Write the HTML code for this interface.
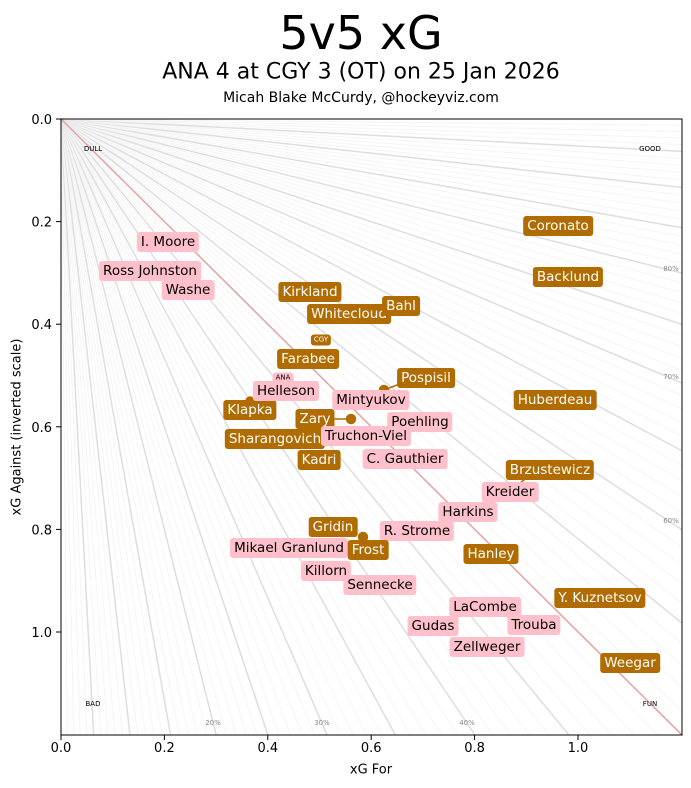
<!DOCTYPE html>
<html><head><meta charset="utf-8">
<style>
html,body{margin:0;background:#fff;width:691px;height:788px;overflow:hidden;font-family:"DejaVu Sans","Liberation Sans",sans-serif}
#w{position:relative;width:691px;height:788px;overflow:hidden}
.l{position:absolute;transform:translate(-50%,-50%);font-size:13.5px;line-height:14px;padding:3px 4px;border-radius:3px;white-space:nowrap}
.b{background:#b06c00;color:#fff}
.p{background:#ffc0cb;color:#000}
.s{font-size:7px;line-height:7px;padding:2px 3px}
.t{position:absolute;transform:translate(-50%,-50%);white-space:nowrap}
</style></head><body><div id="w">
<svg id="g" width="691" height="788" style="position:absolute;left:0;top:0">
<defs><clipPath id="c"><rect x="61" y="119" width="621" height="616"/></clipPath></defs>
<g id="rays" clip-path="url(#c)"></g>
<line x1="61" y1="119" x2="682" y2="735" stroke="#e6a6a6" stroke-width="1.6"/>
<g fill="#b06c00" stroke="#b06c00" stroke-width="1.5">
<circle cx="384" cy="390" r="4.5"/><line x1="384" y1="390" x2="410" y2="380"/>
<circle cx="351" cy="419" r="4.5"/><line x1="351" y1="419" x2="330" y2="419"/>
<circle cx="363" cy="537" r="4.5"/>
<circle cx="514" cy="488" r="4.5"/><line x1="514" y1="488" x2="530" y2="475"/>
<circle cx="250" cy="401" r="4"/>
</g>
<rect x="61" y="119" width="621" height="616" fill="none" stroke="#000" stroke-width="1"/>
<g stroke="#000" stroke-width="1" id="ticks"></g>
<g font-size="13" font-family="DejaVu Sans, Liberation Sans, sans-serif" id="tl"></g>
</svg>
<div class="t" style="left:361px;top:33px;font-size:46px">5v5 xG</div>
<div class="t" style="left:361px;top:72px;font-size:22px">ANA 4 at CGY 3 (OT) on 25 Jan 2026</div>
<div class="t" style="left:361px;top:98px;font-size:14px">Micah Blake McCurdy, @hockeyviz.com</div>
<div class="t" style="left:371px;top:770px;font-size:13px">xG For</div>
<div class="t" style="left:17px;top:427px;font-size:13px;transform:translate(-50%,-50%) rotate(-90deg)">xG Against (inverted scale)</div>
<div class="t" style="left:93px;top:149px;font-size:7px">DULL</div>
<div class="t" style="left:650px;top:149px;font-size:7px">GOOD</div>
<div class="t" style="left:93px;top:704px;font-size:7px">BAD</div>
<div class="t" style="left:650px;top:704px;font-size:7px">FUN</div>
<div class="t" style="left:671px;top:269px;font-size:7px;color:#888">80%</div>
<div class="t" style="left:671px;top:377px;font-size:7px;color:#888">70%</div>
<div class="t" style="left:671px;top:521px;font-size:7px;color:#888">60%</div>
<div class="t" style="left:213px;top:723px;font-size:7px;color:#888">20%</div>
<div class="t" style="left:322px;top:723px;font-size:7px;color:#888">30%</div>
<div class="t" style="left:467px;top:723px;font-size:7px;color:#888">40%</div>

<div class="l b" style="left:558px;top:226px">Coronato</div>
<div class="l b" style="left:568px;top:277px">Backlund</div>
<div class="l b" style="left:310px;top:292px">Kirkland</div>
<div class="l b" style="left:349px;top:314px">Whitecloud</div>
<div class="l b" style="left:401px;top:306px">Bahl</div>
<div class="l b s" style="left:321px;top:340px">CGY</div>
<div class="l b" style="left:308px;top:359px">Farabee</div>
<div class="l b" style="left:426px;top:378px">Pospisil</div>
<div class="l b" style="left:555px;top:400px">Huberdeau</div>
<div class="l b" style="left:250px;top:410px">Klapka</div>
<div class="l b" style="left:275px;top:439px">Sharangovich</div>
<div class="l b" style="left:315px;top:419px">Zary</div>
<div class="l b" style="left:319px;top:460px">Kadri</div>
<div class="l b" style="left:550px;top:470px">Brzustewicz</div>
<div class="l b" style="left:333px;top:527px">Gridin</div>
<div class="l b" style="left:491px;top:554px">Hanley</div>
<div class="l b" style="left:600px;top:598px">Y. Kuznetsov</div>
<div class="l b" style="left:630px;top:663px">Weegar</div>

<div class="l p" style="left:168px;top:242px">I. Moore</div>
<div class="l p" style="left:150px;top:271px">Ross Johnston</div>
<div class="l p" style="left:188px;top:290px">Washe</div>
<div class="l p s" style="left:283px;top:378px">ANA</div>
<div class="l p" style="left:286px;top:391px">Helleson</div>
<div class="l p" style="left:371px;top:400px">Mintyukov</div>
<div class="l p" style="left:420px;top:422px">Poehling</div>
<div class="l p" style="left:366px;top:436px">Truchon-Viel</div>
<div class="l p" style="left:405px;top:459px">C. Gauthier</div>
<div class="l p" style="left:510px;top:492px">Kreider</div>
<div class="l p" style="left:468px;top:512px">Harkins</div>
<div class="l p" style="left:417px;top:531px">R. Strome</div>
<div class="l p" style="left:289px;top:548px">Mikael Granlund</div>
<div class="l b" style="left:368px;top:550px">Frost</div>
<div class="l p" style="left:326px;top:571px">Killorn</div>
<div class="l p" style="left:380px;top:585px">Sennecke</div>
<div class="l p" style="left:485px;top:607px">LaCombe</div>
<div class="l p" style="left:433px;top:626px">Gudas</div>
<div class="l p" style="left:534px;top:625px">Trouba</div>
<div class="l p" style="left:487px;top:647px">Zellweger</div>
</div>
<script>
var NS="http://www.w3.org/2000/svg",r=document.getElementById("rays");
function ln(g,a,s,w){var e=document.createElementNS(NS,"line");for(var k in a)e.setAttribute(k,a[k]);e.setAttribute("stroke",s);e.setAttribute("stroke-width",w);g.appendChild(e);}
for(var i=1;i<100;i++){if(i==50)continue;var p=i/100,dx=p,dy=1-p,L=3000/Math.hypot(dx,dy);
var x=61+dx*L*517,y=119+dy*L*513;var major=i%5==0;
ln(r,{x1:61,y1:119,x2:x,y2:y},major?"#dedede":"#f5f5f5",major?1.5:1);}
var t=document.getElementById("ticks"),tl=document.getElementById("tl");
for(var j=0;j<=5;j++){var v=(j*0.2).toFixed(1),px=61+j*103.4,py=119+j*102.6;
ln(t,{x1:px,y1:735,x2:px,y2:740},"#000",1);ln(t,{x1:56,y1:py,x2:61,y2:py},"#000",1);
var a=document.createElementNS(NS,"text");a.setAttribute("x",px);a.setAttribute("y",752);a.setAttribute("text-anchor","middle");a.textContent=v;tl.appendChild(a);
var b=document.createElementNS(NS,"text");b.setAttribute("x",52);b.setAttribute("y",py+5);b.setAttribute("text-anchor","end");b.textContent=v;tl.appendChild(b);}
</script>
</body></html>
